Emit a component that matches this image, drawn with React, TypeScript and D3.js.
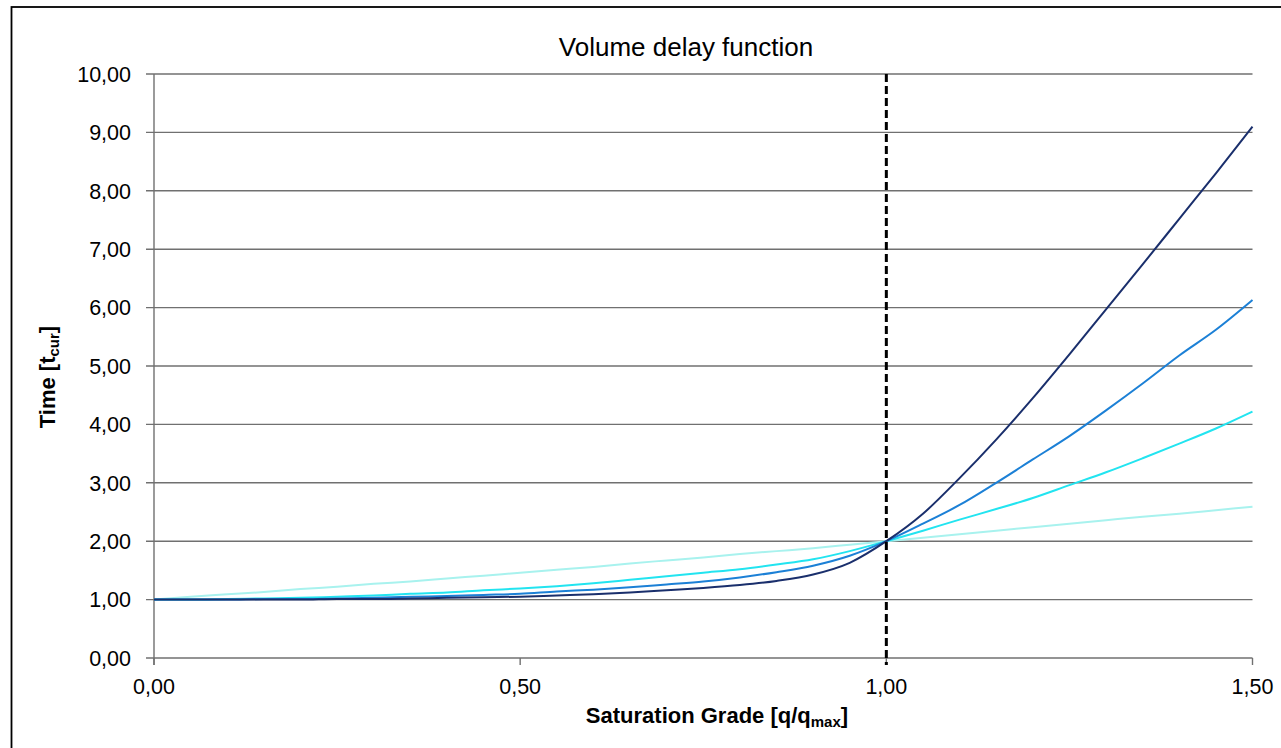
import React from "react";
import * as d3 from "d3";

const xValues = [0, 0.05, 0.1, 0.15, 0.2, 0.25, 0.3, 0.35, 0.4, 0.45, 0.5, 0.55, 0.6, 0.65, 0.7, 0.75, 0.8, 0.85, 0.9, 0.95, 1.0, 1.05, 1.1, 1.15, 1.2, 1.25, 1.3, 1.35, 1.4, 1.45, 1.5];

const navySeries = [1.0, 1.0, 1.0, 1.0, 1.0, 1.01, 1.01, 1.02, 1.03, 1.04, 1.05, 1.07, 1.09, 1.12, 1.16, 1.2, 1.25, 1.32, 1.43, 1.63, 2.0, 2.47, 3.08, 3.74, 4.45, 5.2, 5.97, 6.74, 7.52, 8.3, 9.1];
const blueSeries = [1.0, 1.0, 1.0, 1.01, 1.01, 1.02, 1.03, 1.05, 1.06, 1.08, 1.1, 1.14, 1.17, 1.21, 1.26, 1.31, 1.38, 1.47, 1.58, 1.75, 2.0, 2.3, 2.62, 3.0, 3.4, 3.8, 4.24, 4.7, 5.18, 5.62, 6.13];
const cyanSeries = [1.0, 1.0, 1.01, 1.02, 1.03, 1.05, 1.07, 1.1, 1.12, 1.16, 1.19, 1.23, 1.28, 1.34, 1.4, 1.46, 1.52, 1.6, 1.69, 1.83, 2.0, 2.18, 2.37, 2.55, 2.74, 2.96, 3.18, 3.42, 3.67, 3.93, 4.22];
const lightSeries = [1.0, 1.05, 1.09, 1.13, 1.18, 1.22, 1.27, 1.31, 1.36, 1.41, 1.46, 1.51, 1.56, 1.62, 1.67, 1.72, 1.78, 1.83, 1.88, 1.94, 2.0, 2.06, 2.12, 2.18, 2.24, 2.3, 2.36, 2.42, 2.47, 2.53, 2.59];

const yTicks = [0, 1, 2, 3, 4, 5, 6, 7, 8, 9, 10];
const xTicks = [0, 0.5, 1.0, 1.5];
const capacityMark = 1.0;

const seriesList = [
  { name: "light", values: lightSeries, color: "#a8f2ee" },
  { name: "cyan", values: cyanSeries, color: "#22e4f0" },
  { name: "blue", values: blueSeries, color: "#1c80d6" },
  { name: "navy", values: navySeries, color: "#1a2f6c" },
];

const fmt = (v: number) => v.toFixed(2).replace(".", ",");

export default function App() {
  const W = 1281;
  const H = 748;
  const left = 154;
  const right = 1252.5;
  const top = 74;
  const bottom = 658;

  const x = d3.scaleLinear().domain([0, 1.5]).range([left, right]);
  const y = d3.scaleLinear().domain([0, 10]).range([bottom, top]);

  const line = d3
    .line<number>()
    .x((_, i) => x(xValues[i]))
    .y((d) => y(d))
    .curve(d3.curveMonotoneX);

  const font = "'Liberation Sans', Arial, sans-serif";
  const grid = "#707070";

  return (
    <svg
      width={W}
      height={H}
      style={{ position: "absolute", left: 0, top: 0, background: "#fff" }}
      fontFamily={font}
    >
      <rect x={0} y={0} width={W} height={H} fill="#fff" />
      <rect x={11.5} y={7} width={1400} height={900} fill="none" stroke="#000" strokeWidth={1.8} />

      <text x={686} y={56} textAnchor="middle" fontSize={26} fill="#000">
        Volume delay function
      </text>

      {yTicks.map((t) => (
        <g key={"y" + t}>
          <line x1={left - 8} x2={right} y1={y(t)} y2={y(t)} stroke={grid} strokeWidth={1.4} />
          <text x={131} y={y(t)} dy="0.36em" textAnchor="end" fontSize={21.5} fill="#000">
            {fmt(t)}
          </text>
        </g>
      ))}
      <line x1={left} x2={left} y1={top} y2={bottom + 7} stroke={grid} strokeWidth={1.4} />

      {xTicks.map((t) => (
        <g key={"x" + t}>
          <line x1={x(t)} x2={x(t)} y1={bottom} y2={bottom + 7} stroke={grid} strokeWidth={1.4} />
          <text x={x(t)} y={694} textAnchor="middle" fontSize={21.5} fill="#000">
            {fmt(t)}
          </text>
        </g>
      ))}

      {seriesList.map((s) => (
        <path key={s.name} d={line(s.values) || ""} fill="none" stroke={s.color} strokeWidth={2} strokeLinejoin="round" />
      ))}

      <line
        x1={x(capacityMark)}
        x2={x(capacityMark)}
        y1={top}
        y2={bottom + 7}
        stroke="#000"
        strokeWidth={3}
        strokeDasharray="8,4"
      />

      <text x={717} y={723} textAnchor="middle" fontSize={22} fontWeight="bold" fill="#000">
        Saturation Grade [q/q<tspan fontSize={15} dy={4}>max</tspan><tspan dy={-4}>]</tspan>
      </text>

      <text
        transform="translate(55,377) rotate(-90)"
        textAnchor="middle"
        fontSize={22}
        fontWeight="bold"
        fill="#000"
      >
        Time [t<tspan fontSize={15} dy={4}>cur</tspan><tspan dy={-4}>]</tspan>
      </text>
    </svg>
  );
}
